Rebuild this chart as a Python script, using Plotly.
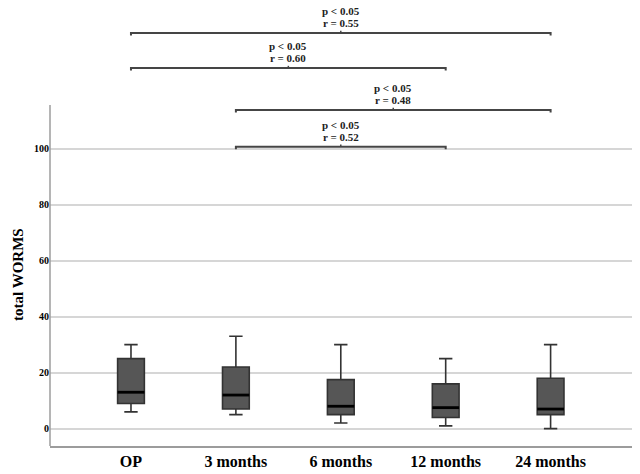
import plotly.graph_objects as go

categories = ["OP", "3 months", "6 months", "12 months", "24 months"]
lower = [6, 5, 2, 1, 0]
q1 = [9, 7, 5, 4, 5]
median = [13, 12, 8, 7.5, 7]
q3 = [25, 22, 17.5, 16, 18]
upper = [30, 33, 30, 25, 30]

# significance brackets (index of first / second group)
br_from = [0, 0, 1, 1]
br_to = [4, 3, 4, 3]
br_y = [141.3, 128.8, 113.8, 100.7]
br_p = ["p < 0.05", "p < 0.05", "p < 0.05", "p < 0.05"]
br_r = ["r = 0.55", "r = 0.60", "r = 0.48", "r = 0.52"]

yticks = [0, 20, 40, 60, 80, 100]

SERIF = "Liberation Serif, Times New Roman, serif"
BOX_W = 0.255
AXIS_C = "#9c9c9c"
BR_C = "#454545"

fig = go.Figure()
fig.add_trace(go.Box(
    x=categories, q1=q1, median=median, q3=q3,
    lowerfence=lower, upperfence=upper,
    boxpoints=False, width=BOX_W, whiskerwidth=0.5,
    fillcolor="#565656", line=dict(color="#333333", width=1.6),
    showlegend=False, hoverinfo="skip"))

shapes = []
# thicker median bars
for i, m in enumerate(median):
    shapes.append(dict(type="line", xref="x", yref="y",
                       x0=i - BOX_W / 2, x1=i + BOX_W / 2, y0=m, y1=m,
                       line=dict(color="black", width=2.8)))

# left axis line, stops just above 100
shapes.append(dict(type="line", xref="paper", yref="y", x0=0, x1=0,
                   y0=-6.2, y1=115.6, line=dict(color=AXIS_C, width=1.5)))

annotations = []
for a, b, y, p, r in zip(br_from, br_to, br_y, br_p, br_r):
    mid = (a + b) / 2
    shapes.append(dict(type="path", xref="x", yref="y",
                       path=f"M {a},{y - 0.9} L {a},{y} L {b},{y} L {b},{y - 0.9}",
                       line=dict(color=BR_C, width=2)))
    shapes.append(dict(type="line", xref="x", yref="y", x0=mid, x1=mid,
                       y0=y, y1=y + 0.8, line=dict(color=BR_C, width=1.5)))
    annotations.append(dict(x=mid, y=y, xref="x", yref="y", text=p,
                            showarrow=False, yanchor="middle", yshift=22,
                            font=dict(family=SERIF, size=11, color="#222", weight="bold")))
    annotations.append(dict(x=mid, y=y, xref="x", yref="y", text=r,
                            showarrow=False, yanchor="middle", yshift=10,
                            font=dict(family=SERIF, size=11, color="#222", weight="bold")))

# y title placed by pixel position, converted to paper coords
annotations.append(dict(x=(18 - 50) / 582, y=(446 - 275) / 444,
                        xref="paper", yref="paper", text="total WORMS",
                        showarrow=False, textangle=-90, xanchor="center", yanchor="middle",
                        font=dict(family=SERIF, size=15, color="black", weight="bold")))

fig.update_layout(
    width=640, height=474,
    margin=dict(l=50, r=8, t=2, b=28),
    paper_bgcolor="white", plot_bgcolor="white",
    shapes=shapes, annotations=annotations,
    xaxis=dict(range=[-0.772, 4.776], showgrid=False, showline=True,
               linecolor=AXIS_C, linewidth=1.5, ticks="", zeroline=False,
               tickfont=dict(family=SERIF, size=16, color="black", weight="bold")),
    yaxis=dict(range=[-6.2, 152.4], tickvals=yticks, showgrid=True,
               gridcolor="#d6d6d6", gridwidth=1.5, zeroline=False, showline=False,
               ticks="", tickfont=dict(family=SERIF, size=10, color="black", weight="bold")),
)

# drop the browser's default body margin so the figure sits at the page corner
fig.write_html("out.html", config={"displayModeBar": False},
               post_script="document.body.style.margin='0';")
